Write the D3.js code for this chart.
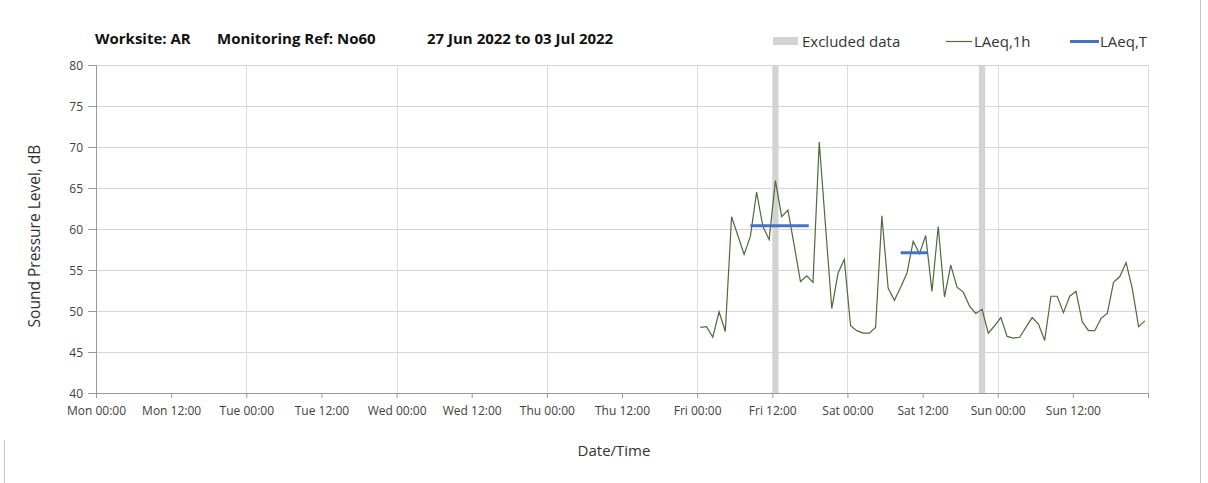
<!DOCTYPE html>
<html>
<head>
<meta charset="utf-8">
<script src="https://cdnjs.cloudflare.com/ajax/libs/d3/7.8.5/d3.min.js"></script>
<style>
  body { margin:0; background:#fff; }
  text { font-family: "Open Sans", "DejaVu Sans", sans-serif; }
</style>
</head>
<body>
<div id="chart"></div>
<script>
// hourly LAeq,1h readings, first one sits at Fri 00:30
var firstHour = '2022-07-01T00:30:00';
var laeq1h = [48.0,48.1,46.8,49.9,47.5,61.5,59.2,56.9,59.1,64.5,60.3,58.7,
              65.9,61.5,62.3,58.0,53.6,54.3,53.5,70.6,60.4,50.3,54.6,56.3,
              48.2,47.6,47.3,47.3,48.0,61.6,52.8,51.3,52.9,54.6,58.5,57.0,
              59.2,52.4,60.3,51.7,55.6,52.9,52.3,50.6,49.7,50.2,47.3,48.2,
              49.2,46.9,46.7,46.8,48.0,49.2,48.4,46.4,51.8,51.8,49.8,51.8,
              52.4,48.7,47.6,47.6,49.1,49.7,53.5,54.2,55.9,52.7,48.1,48.8];

// LAeq,T periods
var laeqTFrom  = ['2022-07-01T08:30:00','2022-07-02T08:30:00'];
var laeqTTo    = ['2022-07-01T17:30:00','2022-07-02T12:30:00'];
var laeqTValue = [60.4, 57.1];

// excluded hours (1h each)
var excludedStart = ['2022-07-01T12:00:00','2022-07-02T21:00:00'];

var weekStart = '2022-06-27T00:00:00';
var weekEnd   = '2022-07-04T00:00:00';
var yTicks = [40,45,50,55,60,65,70,75,80];

var width = 1208, height = 483;
var hour = 3600*1000;

var svg = d3.select('#chart').append('svg')
            .attr('width',width)
            .attr('height',height);

var x = d3.scaleTime()
          .domain([new Date(weekStart), new Date(weekEnd)])
          .range([96,1148]);
var y = d3.scaleLinear().domain([40,80]).range([393,65]);

// frame bits
svg.append('line').attr('x1',1200.5).attr('x2',1200.5).attr('y1',0).attr('y2',height)
   .attr('stroke','#c8c8c8');
svg.append('line').attr('x1',4.5).attr('x2',4.5).attr('y1',440).attr('y2',height)
   .attr('stroke','#c8c8c8');

// horizontal grid
svg.append('g').selectAll('line').data(yTicks.slice(1))
  .enter().append('line')
  .attr('x1',96).attr('x2',1148)
  .attr('y1',function(d){return Math.round(y(d))+0.5})
  .attr('y2',function(d){return Math.round(y(d))+0.5})
  .attr('stroke','#d4d4d4');

// vertical grid, every day at midnight
var days = d3.timeDay.range(d3.timeDay.offset(new Date(weekStart),1), d3.timeDay.offset(new Date(weekEnd),1));
svg.append('g').selectAll('line').data(days)
  .enter().append('line')
  .attr('x1',function(d){return Math.round(x(d))+0.5})
  .attr('x2',function(d){return Math.round(x(d))+0.5})
  .attr('y1',65).attr('y2',393)
  .attr('stroke','#dcdcdc');

// excluded bands
svg.append('g').selectAll('rect').data(excludedStart)
  .enter().append('rect')
  .attr('x',function(d){return x(new Date(d))})
  .attr('width',function(d){var t=new Date(d); return x(new Date(+t+hour))-x(t)})
  .attr('y',65).attr('height',328)
  .attr('fill','#d3d3d3');

// axes
var yAxis = d3.axisLeft(y).tickValues(yTicks).tickSize(8).tickPadding(5).tickFormat(d3.format('d'));
var gy = svg.append('g').attr('transform','translate(96,0)').call(yAxis);
var xAxis = d3.axisBottom(x).ticks(d3.timeHour.every(12)).tickSize(5).tickPadding(8)
              .tickFormat(function(d){
                // last tick (next monday) has no label
                return +d === +new Date(weekEnd) ? '' : d3.timeFormat('%a %H:%M')(d);
              });
var gx = svg.append('g').attr('transform','translate(0,393)').call(xAxis);
[gx,gy].forEach(function(g){
  g.select('.domain').attr('stroke','#9a9a9a');
  g.selectAll('.tick line').attr('stroke','#9a9a9a');
  g.selectAll('.tick text').attr('fill','#404040').style('font-size','12px')
   .style('font-family','"Open Sans", sans-serif');
});
gy.selectAll('.tick text').attr('dy','0.35em');

// LAeq,1h line
var pts = laeq1h.map(function(v,i){
  return {t:new Date(+new Date(firstHour)+i*hour), v:v};
});
var line = d3.line().x(function(d){return x(d.t)}).y(function(d){return y(d.v)});
svg.append('path').datum(pts)
   .attr('d',line)
   .attr('fill','none')
   .attr('stroke','#4e6b3a')
   .attr('stroke-width',1.2);

// LAeq,T bars
svg.append('g').selectAll('line').data(laeqTValue)
  .enter().append('line')
  .attr('x1',function(d,i){return x(new Date(laeqTFrom[i]))})
  .attr('x2',function(d,i){return x(new Date(laeqTTo[i]))+2})
  .attr('y1',function(d){return y(d)})
  .attr('y2',function(d){return y(d)})
  .attr('stroke','#4472c4')
  .attr('stroke-width',3);

// titles
var title = svg.append('g').style('font-weight','bold').style('font-size','15px').attr('fill','#111');
title.append('text').attr('x',95).attr('y',44).text('Worksite: AR');
title.append('text').attr('x',217).attr('y',44).text('Monitoring Ref: No60');
title.append('text').attr('x',427).attr('y',44).text('27 Jun 2022 to 03 Jul 2022');

svg.append('text').attr('transform','translate(40,236) rotate(-90)')
   .attr('text-anchor','middle').style('font-size','15.5px').attr('fill','#333')
   .text('Sound Pressure Level, dB');
svg.append('text').attr('x',614).attr('y',456)
   .attr('text-anchor','middle').style('font-size','15px').attr('fill','#333')
   .text('Date/Time');

// legend
var lg = svg.append('g').style('font-size','15px').attr('fill','#333');
lg.append('rect').attr('x',773).attr('y',37).attr('width',25).attr('height',8).attr('fill','#d3d3d3');
lg.append('text').attr('x',802).attr('y',47).text('Excluded data');
lg.append('line').attr('x1',946).attr('x2',972).attr('y1',41.5).attr('y2',41.5)
  .attr('stroke','#4e6b3a').attr('stroke-width',1.2);
lg.append('text').attr('x',974).attr('y',47).text('LAeq,1h');
lg.append('line').attr('x1',1070).attr('x2',1099).attr('y1',41.5).attr('y2',41.5)
  .attr('stroke','#4472c4').attr('stroke-width',3);
lg.append('text').attr('x',1100).attr('y',47).text('LAeq,T');
</script>
</body>
</html>
